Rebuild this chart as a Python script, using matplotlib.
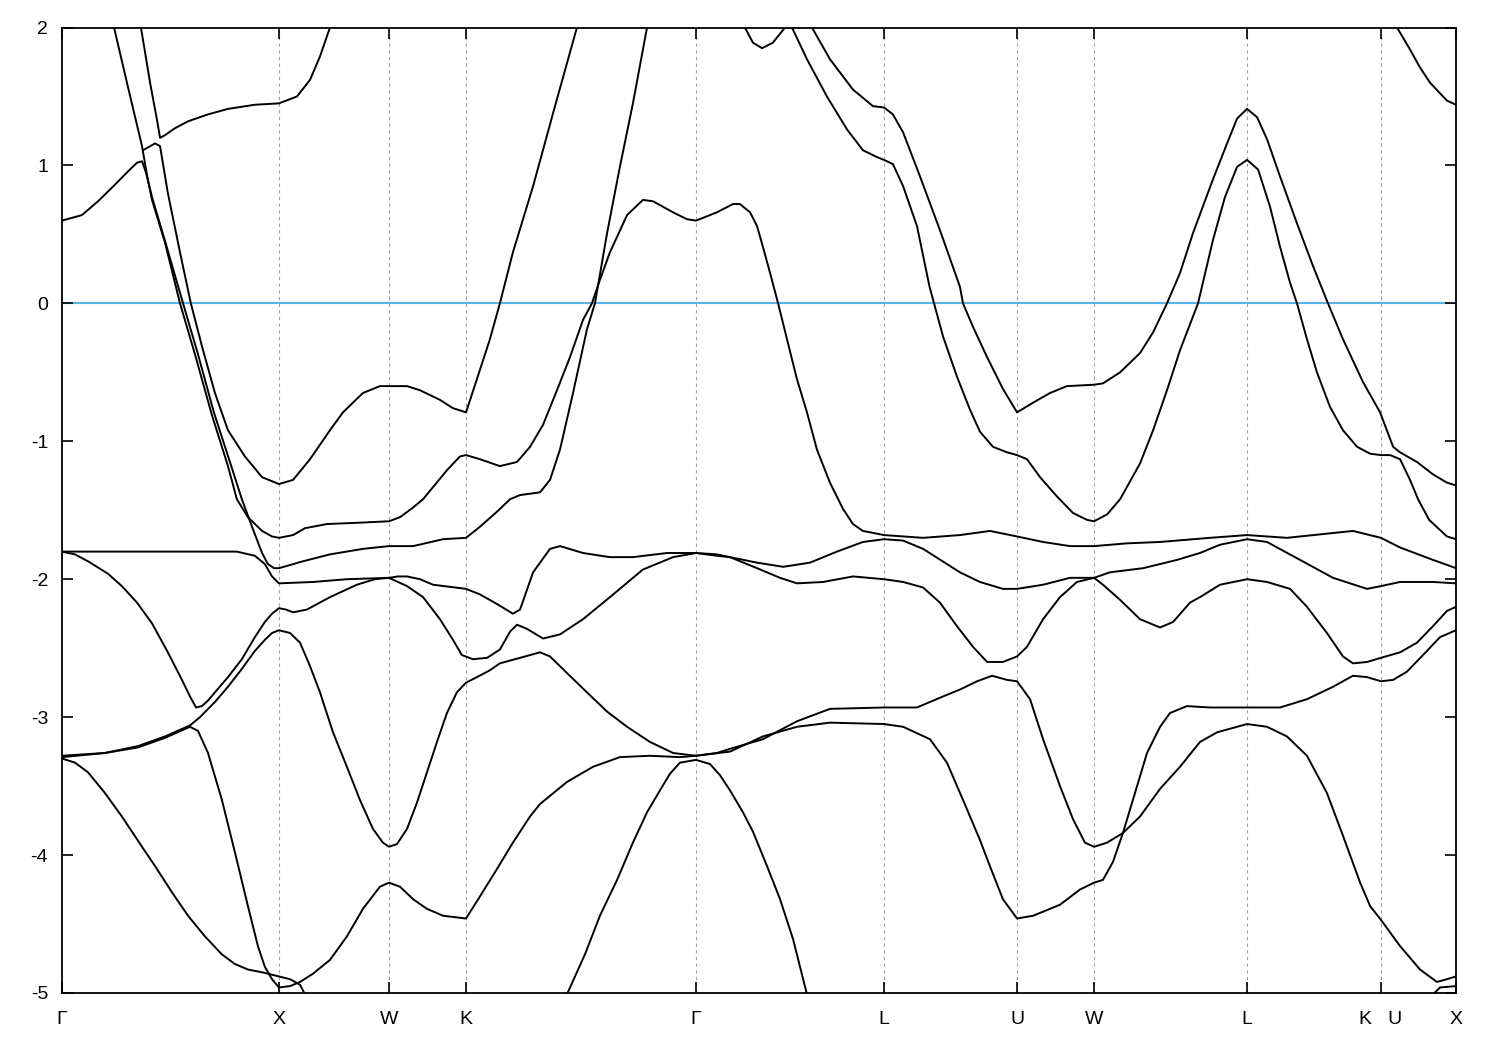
import matplotlib
matplotlib.use('Agg')
import matplotlib.pyplot as plt

plt.rcParams['font.family'] = ['Liberation Sans', 'DejaVu Sans']
plt.rcParams['axes.unicode_minus'] = False

# high-symmetry points along the k-path (units of Gamma-X distance)
sym_k = [0.0, 1.0, 1.507, 1.862, 2.922, 3.788, 4.401, 4.756, 5.461, 6.078, 6.424]
sym_labels = ['Γ', 'X', 'W', 'K', 'Γ', 'L', 'U', 'W', 'L', 'K   U', 'X']
y_ticks = [2, 1, 0, -1, -2, -3, -4, -5]

# bands: (k, E) per curve, E in eV relative to E_F
k_b1 = [0.0, 0.092, 0.166, 0.244, 0.300, 0.346, 0.369, 0.387, 0.415, 0.479, 0.558, 0.627, 0.700, 0.774,
        0.829, 0.876, 0.922, 0.949, 0.977, 1.0, 1.111, 1.235, 1.387, 1.507, 1.618, 1.756, 1.862, 1.926,
        2.005, 2.065, 2.111, 2.203, 2.249, 2.295, 2.355, 2.419, 2.456, 2.512, 2.571, 2.631, 2.696]
e_b1 = [0.60, 0.64, 0.74, 0.86, 0.95, 1.02, 1.03, 0.95, 0.77, 0.43, 0.0, -0.37, -0.79, -1.15,
        -1.42, -1.62, -1.81, -1.89, -1.92, -1.92, -1.87, -1.82, -1.78, -1.76, -1.76, -1.71, -1.70, -1.62,
        -1.51, -1.42, -1.39, -1.37, -1.28, -1.06, -0.65, -0.19, 0.0, 0.51, 0.99, 1.45, 2.0]

k_b2 = [0.240, 0.304, 0.369, 0.392, 0.415, 0.475, 0.544, 0.613, 0.691, 0.765, 0.806, 0.857, 0.922, 0.968,
        1.0, 1.065, 1.120, 1.221, 1.373, 1.507, 1.558, 1.618, 1.664, 1.774, 1.834, 1.862, 1.926, 2.018,
        2.097, 2.157, 2.217, 2.281, 2.341, 2.401, 2.442, 2.479, 2.525, 2.604, 2.677, 2.724, 2.816, 2.880,
        2.922, 3.018, 3.092, 3.124, 3.171, 3.203, 3.230, 3.263, 3.300, 3.341, 3.387, 3.433, 3.479, 3.539,
        3.599, 3.645, 3.691, 3.788, 3.968, 4.138, 4.276, 4.401, 4.521, 4.645, 4.756, 4.908, 5.060, 5.290,
        5.461, 5.645, 5.949, 6.078, 6.166, 6.318, 6.424]
e_b2 = [2.0, 1.57, 1.14, 0.93, 0.75, 0.44, 0.0, -0.37, -0.81, -1.18, -1.42, -1.55, -1.65, -1.69,
        -1.70, -1.68, -1.63, -1.60, -1.59, -1.58, -1.55, -1.48, -1.42, -1.21, -1.11, -1.10, -1.13, -1.18,
        -1.15, -1.04, -0.88, -0.63, -0.39, -0.12, 0.0, 0.17, 0.37, 0.64, 0.75, 0.74, 0.66, 0.61,
        0.60, 0.66, 0.72, 0.72, 0.66, 0.56, 0.41, 0.22, 0.0, -0.26, -0.55, -0.79, -1.06, -1.30,
        -1.49, -1.60, -1.65, -1.68, -1.70, -1.68, -1.65, -1.69, -1.73, -1.76, -1.76, -1.74, -1.73, -1.70,
        -1.68, -1.70, -1.65, -1.70, -1.77, -1.86, -1.92]

k_b3 = [0.373, 0.396, 0.429, 0.452, 0.488, 0.544, 0.594, 0.645, 0.705, 0.765, 0.843, 0.922, 1.0, 1.065,
        1.143, 1.235, 1.295, 1.387, 1.465, 1.507, 1.590, 1.650, 1.742, 1.802, 1.862, 1.912, 1.972, 2.018,
        2.078, 2.171, 2.272, 2.373]
e_b3 = [1.11, 1.13, 1.16, 1.14, 0.80, 0.37, 0.0, -0.31, -0.65, -0.92, -1.11, -1.26, -1.31, -1.28,
        -1.13, -0.92, -0.79, -0.65, -0.60, -0.60, -0.60, -0.63, -0.70, -0.76, -0.79, -0.55, -0.26, 0.0,
        0.37, 0.85, 1.43, 2.0]

k_b4 = [0.364, 0.406, 0.438, 0.452, 0.475, 0.521, 0.581, 0.673, 0.765, 0.889, 1.0, 1.083, 1.143, 1.189, 1.235]
e_b4 = [2.0, 1.60, 1.33, 1.20, 1.22, 1.27, 1.32, 1.37, 1.41, 1.44, 1.45, 1.50, 1.62, 1.79, 2.0]

k_b5 = [0.0, 0.406, 0.806, 0.889, 0.935, 0.968, 1.0, 1.157, 1.313, 1.507, 1.548, 1.590, 1.650, 1.710,
        1.862, 1.926, 2.005, 2.078, 2.111, 2.171, 2.249, 2.295, 2.401, 2.525, 2.631, 2.788, 2.922, 3.018,
        3.078, 3.203, 3.323, 3.447, 3.571, 3.691, 3.788, 3.876, 3.968, 4.078, 4.138, 4.230, 4.336, 4.401,
        4.521, 4.645, 4.756, 4.829, 4.982, 5.138, 5.244, 5.336, 5.461, 5.553, 5.705, 5.857, 6.014, 6.078,
        6.166, 6.318, 6.424]
e_b5 = [-1.80, -1.80, -1.80, -1.83, -1.89, -1.98, -2.03, -2.02, -2.00, -1.99, -1.98, -1.98, -2.00, -2.04,
        -2.07, -2.11, -2.18, -2.25, -2.22, -1.95, -1.78, -1.76, -1.81, -1.84, -1.84, -1.81, -1.81, -1.82,
        -1.84, -1.88, -1.91, -1.88, -1.80, -1.73, -1.71, -1.72, -1.78, -1.89, -1.95, -2.02, -2.07, -2.07,
        -2.04, -1.99, -1.99, -1.95, -1.92, -1.86, -1.81, -1.75, -1.71, -1.73, -1.86, -1.99, -2.07, -2.05,
        -2.02, -2.02, -2.03]

k_b6 = [0.0, 0.060, 0.120, 0.212, 0.276, 0.346, 0.415, 0.488, 0.553, 0.590, 0.618, 0.645, 0.673, 0.705,
        0.765, 0.829, 0.889, 0.935, 0.968, 1.0, 1.032, 1.065, 1.129, 1.235, 1.359, 1.442, 1.507, 1.590,
        1.664, 1.742, 1.802, 1.843, 1.894, 1.959, 2.018, 2.065, 2.097, 2.143, 2.217, 2.295, 2.401, 2.525,
        2.677, 2.816, 2.922, 3.018, 3.078, 3.203, 3.309, 3.387, 3.507, 3.645, 3.788, 3.876, 3.968, 4.046,
        4.124, 4.198, 4.263, 4.336, 4.401, 4.447, 4.521, 4.599, 4.677, 4.756, 4.797, 4.876, 4.968, 5.060,
        5.120, 5.198, 5.244, 5.336, 5.461, 5.553, 5.659, 5.737, 5.829, 5.903, 5.949, 6.014, 6.078, 6.166,
        6.244, 6.318, 6.382, 6.424]
e_b6 = [-1.80, -1.82, -1.87, -1.96, -2.05, -2.17, -2.32, -2.53, -2.73, -2.85, -2.93, -2.92, -2.88, -2.82,
        -2.71, -2.58, -2.42, -2.31, -2.25, -2.21, -2.22, -2.24, -2.22, -2.13, -2.04, -2.00, -1.99, -2.05,
        -2.13, -2.29, -2.44, -2.55, -2.58, -2.57, -2.51, -2.38, -2.33, -2.36, -2.43, -2.40, -2.29, -2.13,
        -1.93, -1.84, -1.81, -1.83, -1.84, -1.92, -1.99, -2.03, -2.02, -1.98, -2.00, -2.02, -2.06, -2.17,
        -2.34, -2.49, -2.60, -2.60, -2.56, -2.49, -2.29, -2.13, -2.02, -1.99, -2.04, -2.15, -2.29, -2.35,
        -2.31, -2.17, -2.13, -2.04, -2.00, -2.02, -2.07, -2.20, -2.39, -2.56, -2.61, -2.60, -2.57, -2.53,
        -2.46, -2.34, -2.23, -2.20]

k_b7 = [0.0, 0.198, 0.350, 0.475, 0.590, 0.636, 0.705, 0.765, 0.829, 0.889, 0.935, 0.968, 1.0, 1.051,
        1.097, 1.143, 1.189, 1.249, 1.313, 1.373, 1.433, 1.479, 1.507, 1.544, 1.590, 1.636, 1.682, 1.728,
        1.774, 1.820, 1.862, 1.912, 1.972, 2.018, 2.111, 2.203, 2.249, 2.327, 2.419, 2.512, 2.604, 2.710,
        2.816, 2.922, 3.018, 3.078, 3.230, 3.387, 3.539, 3.788, 3.940, 4.060, 4.138, 4.217, 4.286, 4.355,
        4.401, 4.461, 4.521, 4.599, 4.659, 4.714, 4.756, 4.816, 4.889, 4.968, 5.060, 5.152, 5.244, 5.323,
        5.461, 5.553, 5.645, 5.737, 5.829, 5.903, 5.982, 6.028, 6.078, 6.166, 6.258, 6.336, 6.382, 6.424]
e_b7 = [-3.28, -3.26, -3.21, -3.14, -3.06, -3.00, -2.89, -2.78, -2.65, -2.52, -2.44, -2.39, -2.37, -2.39,
        -2.46, -2.63, -2.82, -3.11, -3.36, -3.60, -3.81, -3.91, -3.94, -3.92, -3.81, -3.62, -3.40, -3.18,
        -2.97, -2.82, -2.75, -2.71, -2.66, -2.61, -2.57, -2.53, -2.56, -2.68, -2.82, -2.96, -3.07, -3.18,
        -3.26, -3.28, -3.26, -3.23, -3.16, -3.03, -2.94, -2.93, -2.93, -2.85, -2.80, -2.74, -2.70, -2.73,
        -2.74, -2.87, -3.16, -3.50, -3.74, -3.91, -3.94, -3.91, -3.84, -3.72, -3.52, -3.36, -3.18, -3.11,
        -3.05, -3.07, -3.14, -3.28, -3.55, -3.86, -4.20, -4.37, -4.47, -4.66, -4.83, -4.92, -4.90, -4.88]

k_b8 = [0.0, 0.198, 0.350, 0.475, 0.590, 0.627, 0.673, 0.737, 0.797, 0.857, 0.903, 0.935, 0.968, 1.0,
        1.051, 1.097, 1.157, 1.235, 1.313, 1.387, 1.465, 1.507, 1.558, 1.618, 1.682, 1.756, 1.862, 1.926,
        2.005, 2.078, 2.157, 2.203, 2.327, 2.447, 2.571, 2.710, 2.848, 2.922, 3.078, 3.230, 3.387, 3.539,
        3.788, 3.876, 4.000, 4.078, 4.152, 4.230, 4.276, 4.336, 4.401, 4.475, 4.599, 4.691, 4.756, 4.797,
        4.843, 4.889, 4.935, 5.000, 5.060, 5.106, 5.184, 5.290, 5.461, 5.613, 5.737, 5.857, 5.949, 6.014,
        6.078, 6.134, 6.198, 6.290, 6.350, 6.424]
e_b8 = [-3.29, -3.26, -3.22, -3.15, -3.07, -3.10, -3.26, -3.60, -3.98, -4.37, -4.66, -4.81, -4.90, -4.96,
        -4.95, -4.92, -4.86, -4.76, -4.59, -4.39, -4.23, -4.20, -4.23, -4.32, -4.39, -4.44, -4.46, -4.30,
        -4.10, -3.91, -3.72, -3.63, -3.47, -3.36, -3.29, -3.28, -3.29, -3.28, -3.25, -3.14, -3.07, -3.04,
        -3.05, -3.07, -3.16, -3.33, -3.60, -3.89, -4.08, -4.32, -4.46, -4.44, -4.36, -4.25, -4.20, -4.18,
        -4.05, -3.84, -3.60, -3.26, -3.07, -2.97, -2.92, -2.93, -2.93, -2.93, -2.87, -2.78, -2.70, -2.71,
        -2.74, -2.73, -2.67, -2.52, -2.42, -2.37]

k_b9 = [0.0, 0.060, 0.120, 0.198, 0.276, 0.369, 0.429, 0.507, 0.581, 0.659, 0.737, 0.797, 0.857, 0.922,
        1.0, 1.051, 1.097, 1.120]
e_b9 = [-3.30, -3.33, -3.40, -3.55, -3.72, -3.94, -4.08, -4.27, -4.44, -4.59, -4.72, -4.79, -4.83, -4.85,
        -4.88, -4.90, -4.94, -5.01]

k_b10 = [2.327, 2.410, 2.479, 2.558, 2.631, 2.696, 2.756, 2.802, 2.848, 2.922, 2.986, 3.032, 3.078, 3.138,
         3.184, 3.249, 3.309, 3.369, 3.433]
e_b10 = [-5.01, -4.72, -4.44, -4.18, -3.91, -3.69, -3.53, -3.41, -3.33, -3.31, -3.34, -3.42, -3.53, -3.69,
         -3.83, -4.08, -4.32, -4.61, -5.01]

k_b11 = [3.147, 3.184, 3.226, 3.276, 3.332]
e_b11 = [2.0, 1.89, 1.85, 1.89, 2.0]

k_b12 = [3.364, 3.433, 3.525, 3.618, 3.691, 3.756, 3.788, 3.829, 3.876, 3.940, 3.998, 4.060, 4.124, 4.184,
         4.230, 4.290, 4.355, 4.401, 4.447, 4.507, 4.585, 4.659, 4.724, 4.756, 4.816, 4.876, 4.968, 5.028,
         5.092, 5.152, 5.235, 5.304, 5.359, 5.415, 5.461, 5.512, 5.567, 5.613, 5.659, 5.691, 5.737, 5.783,
         5.843, 5.903, 5.968, 6.028, 6.078, 6.120, 6.166, 6.212, 6.249, 6.300, 6.382, 6.424]
e_b12 = [2.0, 1.77, 1.50, 1.26, 1.11, 1.06, 1.04, 1.01, 0.85, 0.56, 0.12, -0.24, -0.53, -0.77,
         -0.93, -1.04, -1.08, -1.10, -1.13, -1.26, -1.40, -1.52, -1.57, -1.58, -1.53, -1.42, -1.16, -0.92,
         -0.63, -0.34, 0.0, 0.46, 0.77, 0.99, 1.04, 0.97, 0.70, 0.41, 0.15, 0.0, -0.26, -0.50,
         -0.75, -0.92, -1.04, -1.09, -1.10, -1.10, -1.13, -1.28, -1.42, -1.57, -1.69, -1.71]

k_b13 = [3.456, 3.539, 3.645, 3.737, 3.788, 3.829, 3.876, 3.954, 4.046, 4.138, 4.152, 4.198, 4.263, 4.336,
         4.401, 4.475, 4.553, 4.631, 4.756, 4.797, 4.876, 4.968, 5.028, 5.092, 5.152, 5.212, 5.304, 5.369,
         5.415, 5.461, 5.507, 5.553, 5.613, 5.691, 5.765, 5.834, 5.903, 5.995, 6.074, 6.134, 6.166, 6.244,
         6.318, 6.382, 6.424]
e_b13 = [2.0, 1.77, 1.55, 1.43, 1.42, 1.37, 1.24, 0.92, 0.53, 0.12, 0.0, -0.17, -0.39, -0.62,
         -0.79, -0.72, -0.65, -0.60, -0.59, -0.58, -0.50, -0.36, -0.21, 0.0, 0.22, 0.51, 0.90, 1.16,
         1.34, 1.41, 1.35, 1.19, 0.92, 0.58, 0.27, 0.0, -0.26, -0.57, -0.79, -1.04, -1.08, -1.15,
         -1.24, -1.30, -1.32]

k_b14 = [6.152, 6.212, 6.258, 6.304, 6.382, 6.424]
e_b14 = [2.0, 1.84, 1.71, 1.60, 1.47, 1.44]

k_b15 = [6.318, 6.350, 6.424]
e_b15 = [-5.01, -4.96, -4.95]

bands = [(k_b1, e_b1), (k_b2, e_b2), (k_b3, e_b3), (k_b4, e_b4), (k_b5, e_b5),
         (k_b6, e_b6), (k_b7, e_b7), (k_b8, e_b8), (k_b9, e_b9), (k_b10, e_b10),
         (k_b11, e_b11), (k_b12, e_b12), (k_b13, e_b13), (k_b14, e_b14), (k_b15, e_b15)]

fig = plt.figure(figsize=(15, 10.5), dpi=100)
ax = fig.add_axes([0.0413, 0.0543, 0.9294, 0.9195])

# dashed markers at the high-symmetry points
for k in sym_k[1:-1]:
    ax.axvline(k, color='#a0a0a0', lw=0.8, ls=(0, (3, 3)), zorder=0)

ax.axhline(0, color='#56b4e9', lw=1.5, zorder=1)

for k, e in bands:
    ax.plot(k, e, color='black', lw=1.4, zorder=2, solid_joinstyle='round')

ax.set_xlim(sym_k[0], sym_k[-1])
ax.set_ylim(-5, 2)
ax.set_xticks(sym_k)
ax.set_xticklabels(sym_labels)
ax.set_yticks(y_ticks)
ax.tick_params(direction='in', length=8, width=1.2, top=True, right=True, labelsize=14)
ax.tick_params(axis='y', pad=10)
ax.tick_params(axis='x', pad=13)
for spine in ax.spines.values():
    spine.set_linewidth(1.3)

fig.savefig('out.png', dpi=100)
